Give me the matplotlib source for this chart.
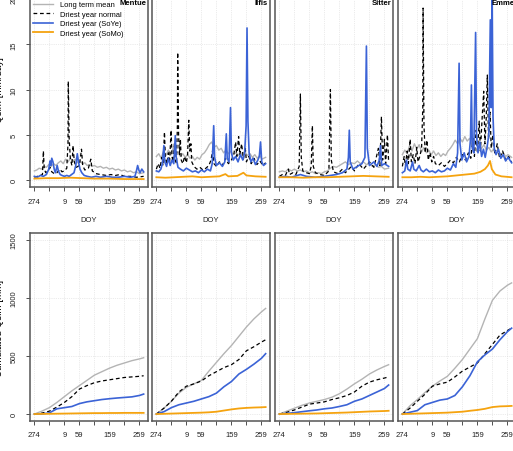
import numpy as np
import matplotlib.pyplot as plt

# ---- data (day index 0 = DOY 274) ----
CATCHMENTS = ["Mentue", "Ilfis", "Sitter", "Emme"]
TICK_POS = [0, 50, 100, 150, 200, 250, 300, 350]
TICK_LAB = ["274", "", "9", "59", "", "159", "", "259"]

# daily runoff, (day, mm/day)
MEN_MEAN = [(0,1.0),(8,1.1),(16,1.3),(24,1.2),(32,1.5),(40,1.4),(48,1.7),(56,1.5),(64,1.8),(72,1.6),
            (80,1.9),(88,2.1),(96,1.8),(104,2.3),(112,2.0),(120,2.4),(128,2.1),(136,2.3),(144,1.9),
            (152,2.1),(160,1.8),(168,1.9),(176,1.6),(184,1.7),(192,1.5),(200,1.6),(210,1.4),(220,1.5),
            (230,1.3),(240,1.4),(250,1.2),(260,1.3),(270,1.1),(280,1.2),(290,1.0),(300,1.1),(310,0.9),
            (320,1.0),(330,0.8),(340,0.9),(350,0.7),(364,0.8)]
MEN_NORM = [(0,0.3),(10,0.4),(20,0.5),(27,0.6),(30,3.2),(33,1.2),(38,0.8),(45,1.0),(52,1.4),(58,0.9),
            (66,0.7),(75,0.8),(85,1.2),(92,0.9),(100,1.0),(108,1.3),(112,4.0),(113,10.9),(116,4.5),
            (120,2.3),(125,1.6),(129,3.8),(133,2.0),(140,1.4),(150,1.6),(157,3.4),(161,1.6),(168,1.1),
            (180,1.3),(188,2.3),(193,1.0),(205,0.7),(220,0.6),(240,0.5),(255,0.6),(270,0.5),(285,0.6),
            (300,0.4),(320,0.4),(340,0.3),(364,0.4)]
MEN_SOYE = [(0,0.4),(10,0.3),(20,0.5),(30,0.4),(40,0.6),(48,1.2),(52,2.1),(55,1.6),(58,2.4),(62,2.0),
            (66,1.2),(70,0.8),(76,1.6),(80,1.0),(86,0.6),(92,0.5),(100,0.4),(108,0.5),(116,0.4),
            (124,0.6),(132,0.8),(138,1.6),(143,2.9),(147,2.0),(152,1.2),(158,0.8),(166,0.5),(176,0.4),
            (190,0.3),(205,0.4),(220,0.3),(240,0.4),(260,0.3),(280,0.3),(300,0.4),(320,0.3),(335,0.4),
            (340,1.0),(344,1.6),(348,1.1),(352,0.8),(358,1.2),(364,0.9)]
MEN_SOMO = [(0,0.15),(40,0.2),(80,0.2),(120,0.25),(160,0.2),(200,0.15),(250,0.15),(300,0.1),(364,0.1)]

ILF_MEAN = [(0,2.6),(8,2.9),(16,2.4),(24,3.2),(32,2.7),(40,3.3),(48,2.8),(56,3.5),(64,2.9),(72,3.1),
            (80,2.6),(88,2.9),(96,2.5),(104,2.8),(112,2.4),(120,2.6),(128,2.2),(136,2.5),(144,2.3),
            (152,2.8),(160,3.0),(168,3.4),(176,3.9),(184,4.2),(192,3.6),(200,3.8),(208,3.3),(216,3.5),
            (224,3.0),(232,3.3),(240,2.9),(248,3.2),(256,2.8),(264,3.0),(272,2.7),(280,3.1),(288,2.6),
            (296,3.0),(304,2.7),(312,2.9),(320,2.5),(328,2.8),(336,2.4),(344,2.7),(352,2.3),(364,2.5)]
ILF_NORM = [(0,1.2),(6,1.8),(12,1.3),(18,2.5),(22,1.6),(27,5.3),(30,2.4),(35,1.8),(40,3.0),(44,1.9),
            (49,5.5),(52,2.6),(56,2.0),(60,4.0),(63,2.2),(67,1.8),(70,6.0),(71,14.1),(74,5.0),(77,2.8),
            (80,4.5),(83,2.2),(88,1.8),(94,2.6),(100,1.9),(104,2.8),(108,6.6),(111,3.2),(115,4.0),
            (118,2.0),(125,1.5),(135,1.2),(145,1.4),(155,1.1),(165,1.3),(175,1.6),(182,2.2),(187,3.2),
            (192,1.8),(200,1.5),(210,2.0),(220,1.6),(230,2.4),(240,1.8),(250,2.2),(258,2.8),(264,4.2),
            (268,2.6),(274,4.8),(278,2.8),(284,4.0),(290,2.3),(296,3.6),(300,2.0),(308,2.6),(316,1.8),
            (325,2.4),(335,1.7),(345,2.1),(355,1.6),(364,1.9)]
ILF_SOYE = [(0,1.0),(8,0.9),(15,1.2),(20,1.8),(25,3.8),(28,2.0),(34,1.5),(40,2.4),(46,1.6),(52,2.2),
            (58,1.8),(63,4.9),(66,2.5),(72,1.4),(80,1.2),(90,1.0),(100,1.3),(110,1.1),(120,0.9),
            (130,1.0),(140,0.8),(150,1.1),(160,0.9),(170,1.2),(180,1.0),(186,1.8),(191,6.0),(194,2.5),
            (200,1.6),(210,1.9),(220,1.5),(228,2.0),(233,5.1),(236,2.4),(242,2.0),(247,8.0),(250,3.0),
            (256,2.2),(264,2.6),(272,2.0),(280,2.8),(288,2.2),(294,3.0),(299,6.0),(302,16.8),(305,6.5),
            (309,3.0),(315,2.0),(322,2.4),(330,1.7),(338,2.2),(343,2.6),(347,4.2),(351,2.0),(357,1.6),
            (364,1.8)]
ILF_SOMO = [(0,0.3),(30,0.25),(60,0.3),(90,0.35),(120,0.4),(150,0.3),(180,0.35),(210,0.4),(230,0.65),
            (240,0.4),(270,0.45),(290,0.8),(300,0.5),(330,0.4),(364,0.35)]

SIT_MEAN = [(0,0.9),(10,1.0),(20,0.9),(30,1.2),(40,1.0),(50,1.2),(60,1.0),(70,1.1),(80,0.9),(90,1.0),
            (100,0.8),(110,0.9),(120,0.7),(130,0.8),(140,0.7),(150,0.9),(160,1.0),(170,1.3),(180,1.5),
            (190,1.4),(200,1.6),(210,1.8),(220,2.0),(230,1.7),(240,1.9),(250,1.8),(260,2.1),(270,1.8),
            (280,2.0),(290,1.7),(300,1.8),(310,1.5),(320,1.7),(330,1.4),(340,1.5),(350,1.2),(364,1.3)]
SIT_NORM = [(0,0.4),(10,0.6),(20,0.5),(30,1.2),(34,0.6),(45,0.8),(55,0.6),(66,1.5),(70,9.5),(73,2.5),
            (78,1.0),(90,0.8),(100,0.7),(106,1.5),(110,6.0),(113,1.5),(120,0.8),(135,0.6),(150,0.5),
            (165,1.0),(170,10.0),(173,2.2),(180,0.9),(195,0.7),(210,1.2),(220,0.8),(240,1.5),(250,1.0),
            (265,1.8),(280,1.2),(300,2.0),(315,1.4),(330,3.5),(335,1.6),(340,7.0),(344,2.2),(350,4.5),
            (354,1.8),(360,5.0),(364,2.0)]
SIT_SOYE = [(0,0.3),(20,0.4),(40,0.3),(60,0.5),(70,0.6),(90,0.4),(120,0.3),(150,0.4),(170,0.5),
            (190,0.6),(210,0.8),(225,1.2),(230,2.5),(233,5.5),(236,2.0),(245,1.2),(260,1.5),(275,1.8),
            (285,2.5),(290,14.8),(293,3.5),(300,1.6),(315,2.0),(325,1.5),(333,2.2),(337,3.8),(341,1.6),
            (350,1.8),(364,1.5)]
SIT_SOMO = [(0,0.3),(40,0.3),(80,0.25),(120,0.3),(160,0.3),(200,0.35),(240,0.4),(280,0.45),(320,0.4),
            (364,0.35)]

EMM_MEAN = [(0,2.8),(8,3.3),(16,2.9),(24,3.8),(32,3.2),(40,4.0),(48,3.4),(56,3.9),(64,3.1),(72,3.6),
            (80,3.0),(88,3.3),(96,2.8),(104,3.2),(112,2.7),(120,3.0),(128,2.6),(136,2.9),(144,2.7),
            (152,3.2),(160,3.5),(168,3.9),(176,4.4),(184,4.0),(192,4.6),(200,4.2),(208,4.8),(216,4.3),
            (224,4.6),(232,4.0),(240,4.4),(248,3.8),(256,4.1),(264,3.5),(272,3.9),(280,3.3),(288,3.6),
            (296,3.1),(304,3.4),(312,2.9),(320,3.2),(328,2.8),(336,3.0),(344,2.6),(352,2.8),(364,2.5)]
EMM_NORM = [(0,1.5),(6,2.6),(10,1.6),(16,3.2),(20,1.8),(26,4.5),(30,2.0),(36,2.8),(42,1.8),(48,3.6),
            (52,2.0),(58,2.6),(64,3.5),(68,8.0),(69,19.0),(72,6.0),(76,3.0),(82,4.4),(86,2.2),(92,3.0),
            (98,2.0),(104,2.6),(110,1.8),(120,1.6),(130,1.9),(140,1.5),(150,1.8),(160,2.2),(170,1.9),
            (180,2.5),(190,2.0),(200,2.8),(210,2.2),(220,3.0),(228,2.4),(235,4.6),(240,2.6),(246,5.5),
            (250,3.0),(256,6.5),(260,3.2),(266,7.0),(271,9.8),(275,4.0),(279,6.5),(283,11.6),(287,4.5),
            (292,7.5),(296,3.5),(302,5.0),(308,2.8),(316,4.0),(324,2.4),(334,3.2),(344,2.2),(354,2.6),
            (364,2.0)]
EMM_SOYE = [(0,0.8),(8,1.0),(14,2.2),(18,1.2),(26,1.0),(34,2.0),(38,1.2),(46,1.0),(56,1.6),(62,1.1),
            (70,0.9),(80,1.2),(90,0.9),(100,1.0),(110,0.8),(120,1.1),(130,0.9),(140,1.0),(150,1.3),
            (160,1.1),(170,1.8),(178,1.4),(184,3.0),(189,12.9),(192,4.0),(198,2.2),(206,3.0),(214,2.0),
            (222,2.6),(227,4.5),(230,10.5),(233,3.5),(238,3.0),(244,16.3),(247,5.0),(252,3.0),(258,4.2),
            (264,2.6),(270,3.4),(276,2.5),(282,3.6),(288,5.0),(293,17.7),(296,8.0),(299,21.0),(302,7.0),
            (306,3.5),(312,2.8),(320,3.4),(328,2.4),(336,2.8),(344,2.1),(352,2.5),(364,1.9)]
EMM_SOMO = [(0,0.3),(30,0.3),(60,0.35),(90,0.3),(120,0.35),(150,0.4),(180,0.5),(210,0.6),(240,0.7),
            (260,0.9),(275,1.2),(285,1.6),(292,2.1),(298,1.2),(310,0.6),(330,0.4),(364,0.3)]

# cumulated runoff (mm), sampled every 25 days
CUM_DAY = [0, 25, 50, 75, 100, 125, 150, 175, 200, 225, 250, 275, 300, 325, 350, 364]
MEN_MEAN_C = [0, 25, 55, 100, 150, 200, 245, 290, 335, 365, 395, 420, 440, 460, 475, 485]
MEN_NORM_C = [0, 8, 25, 60, 100, 150, 215, 245, 270, 285, 295, 305, 315, 320, 325, 330]
MEN_SOYE_C = [0, 0, 10, 45, 55, 65, 90, 105, 115, 125, 132, 138, 143, 148, 160, 172]
MEN_SOMO_C = [0, 1, 2, 3, 4, 5, 6, 7, 8, 8, 9, 9, 10, 10, 10, 10]

ILF_MEAN_C = [0, 50, 110, 180, 230, 260, 290, 370, 445, 520, 590, 670, 750, 820, 880, 910]
ILF_NORM_C = [0, 50, 110, 190, 240, 260, 285, 330, 365, 400, 425, 470, 545, 580, 620, 640]
ILF_SOYE_C = [0, 20, 55, 80, 95, 110, 130, 150, 180, 235, 280, 345, 385, 430, 480, 520]
ILF_SOMO_C = [0, 2, 4, 6, 8, 10, 12, 15, 20, 30, 40, 48, 53, 56, 58, 60]

SIT_MEAN_C = [0, 25, 50, 75, 95, 110, 125, 145, 175, 215, 260, 300, 345, 380, 410, 425]
SIT_NORM_C = [0, 15, 35, 60, 85, 95, 105, 125, 140, 160, 190, 240, 275, 295, 310, 320]
SIT_SOYE_C = [0, 5, 12, 20, 28, 35, 45, 52, 65, 80, 110, 130, 160, 190, 220, 250]
SIT_SOMO_C = [0, 1, 2, 3, 4, 5, 7, 9, 11, 13, 16, 19, 22, 24, 26, 28]

EMM_MEAN_C = [0, 70, 125, 185, 240, 285, 325, 395, 470, 560, 650, 820, 980, 1060, 1110, 1130]
EMM_NORM_C = [0, 50, 110, 170, 240, 260, 275, 320, 370, 405, 440, 520, 600, 680, 720, 740]
EMM_SOYE_C = [0, 15, 30, 80, 100, 120, 130, 160, 235, 330, 450, 510, 560, 640, 710, 740]
EMM_SOMO_C = [0, 2, 4, 6, 8, 10, 12, 16, 20, 28, 35, 45, 60, 66, 68, 70]

DAILY = [
    (MEN_MEAN, MEN_NORM, MEN_SOYE, MEN_SOMO),
    (ILF_MEAN, ILF_NORM, ILF_SOYE, ILF_SOMO),
    (SIT_MEAN, SIT_NORM, SIT_SOYE, SIT_SOMO),
    (EMM_MEAN, EMM_NORM, EMM_SOYE, EMM_SOMO),
]
CUMUL = [
    (MEN_MEAN_C, MEN_NORM_C, MEN_SOYE_C, MEN_SOMO_C),
    (ILF_MEAN_C, ILF_NORM_C, ILF_SOYE_C, ILF_SOMO_C),
    (SIT_MEAN_C, SIT_NORM_C, SIT_SOYE_C, SIT_SOMO_C),
    (EMM_MEAN_C, EMM_NORM_C, EMM_SOYE_C, EMM_SOMO_C),
]

LABELS = ["Long term mean", "Driest year normal", "Driest year (SoYe)", "Driest year (SoMo)"]
STYLES = [
    dict(color="#b4b4b4", lw=1.0, ls="-"),
    dict(color="black", lw=0.9, ls=(0, (3, 2.2))),
    dict(color="#3b63d6", lw=1.2, ls="-"),
    dict(color="#f5a30f", lw=1.3, ls="-"),
]

plt.rcParams["font.family"] = ["Liberation Sans", "DejaVu Sans"]
W, H = 513, 452
fig = plt.figure(figsize=(W / 100, H / 100), dpi=100)
FRAME = "#555555"
LEFTS = [30, 152, 275, 398]


def make_ax(x0, ytop, ybot):
    ax = fig.add_axes([x0 / W, 1 - ybot / H, 118 / W, (ybot - ytop) / H])
    ax.set_xlim(-14.56, 378.56)
    for s in ax.spines.values():
        s.set_color(FRAME)
        s.set_linewidth(1.1)
    ax.set_xticks(TICK_POS)
    ax.set_xticklabels(TICK_LAB)
    ax.tick_params(axis="both", direction="out", length=3, width=0.6, color="#333333",
                   labelsize=5.5, labelcolor="#222222")
    ax.tick_params(axis="x", pad=4.5)
    ax.tick_params(axis="y", pad=6)
    ax.grid(True, color="#d8d8d8", ls=":", lw=0.5)
    ax.set_axisbelow(True)
    ax.set_xlabel("DOY", fontsize=5.5, labelpad=8.5, color="#222222")
    return ax


for k, name in enumerate(CATCHMENTS):
    # daily panel
    ax = make_ax(LEFTS[k], -7.2, 188.2)
    ax.set_ylim(-0.8, 20.8)
    ax.set_yticks([0, 5, 10, 15, 20])
    for series, st, lab in zip(DAILY[k], STYLES, LABELS):
        d, q = zip(*series)
        ax.plot(d, q, label=lab, **st)
    ax.text(0.985, 0.945, name, transform=ax.transAxes, ha="right", va="center",
            fontsize=5.5, fontweight="bold")
    if k == 0:
        for t in ax.get_yticklabels():
            t.set_rotation(90)
            t.set_va("center")
        ax.set_ylabel("Qsim [mm/day]", fontsize=7, labelpad=4.5)
        ax.legend(loc="upper left", bbox_to_anchor=(-0.01, 0.975), frameon=False, fontsize=5.4,
                  handlelength=2.6, handletextpad=0.9, labelspacing=0.3, borderaxespad=0.2)
    else:
        ax.tick_params(axis="y", left=False, labelleft=False)

    # cumulated panel
    ax = make_ax(LEFTS[k], 234, 422)
    ax.set_ylim(-60, 1560)
    ax.set_yticks([0, 500, 1000, 1500])
    for series, st in zip(CUMUL[k], STYLES):
        ax.plot(CUM_DAY, series, **st)
    if k == 0:
        for t in ax.get_yticklabels():
            t.set_rotation(90)
            t.set_va("center")
        ax.set_ylabel("Cumulated Qsim [mm]", fontsize=7, labelpad=4.5)
    else:
        ax.tick_params(axis="y", left=False, labelleft=False)

fig.savefig("out.png", dpi=100)
